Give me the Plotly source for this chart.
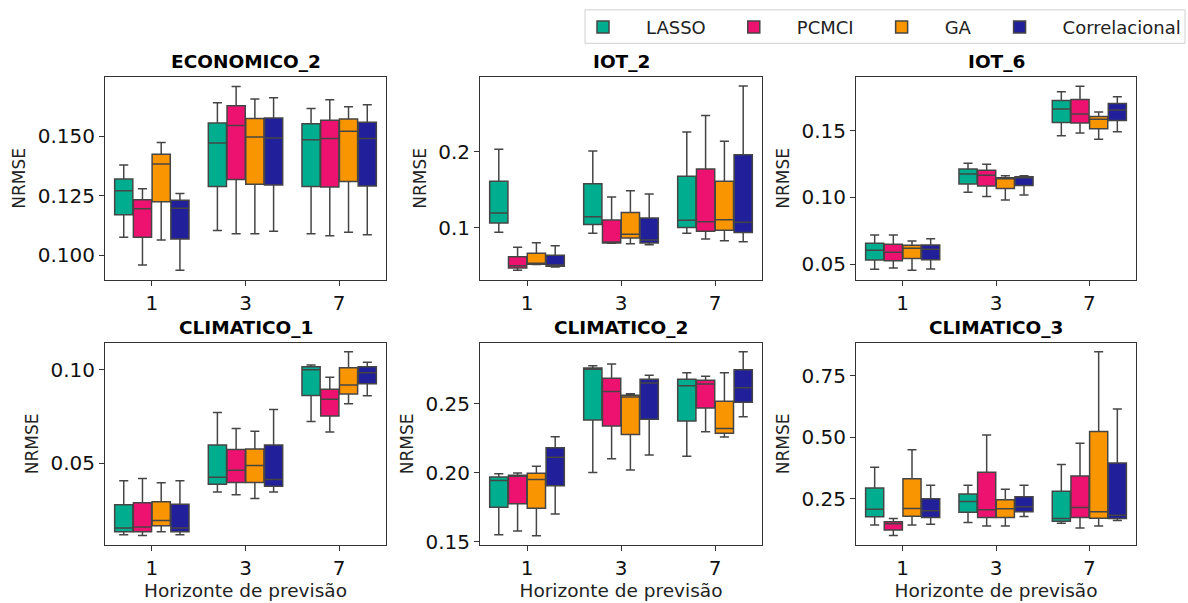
import plotly.graph_objects as go

horizons = ["1", "3", "7"]
methods = ["LASSO", "PCMCI", "GA", "Correlacional"]
colors = ["#00ad8e", "#ee1270", "#f89500", "#211f9a"]
titles = ["ECONOMICO_2", "IOT_2", "IOT_6", "CLIMATICO_1", "CLIMATICO_2", "CLIMATICO_3"]

# stats per dataset -> method -> [lower, q1, median, q3, upper] for each horizon 1,3,7
economico_2 = {
    "LASSO": [[0.1076, 0.1171, 0.1271, 0.1321, 0.1379], [0.1105, 0.1289, 0.1472, 0.1555, 0.1640], [0.1091, 0.1289, 0.1485, 0.1552, 0.1616]],
    "PCMCI": [[0.0960, 0.1076, 0.1196, 0.1234, 0.1280], [0.1091, 0.1318, 0.1545, 0.1628, 0.1709], [0.1083, 0.1287, 0.1490, 0.1567, 0.1653]],
    "GA": [[0.1065, 0.1225, 0.1383, 0.1424, 0.1474], [0.1091, 0.1299, 0.1497, 0.1574, 0.1656], [0.1097, 0.1310, 0.1521, 0.1572, 0.1624]],
    "Correlacional": [[0.0938, 0.1069, 0.1198, 0.1231, 0.1260], [0.1101, 0.1295, 0.1493, 0.1576, 0.1661], [0.1087, 0.1291, 0.1490, 0.1559, 0.1632]],
}
iot_2 = {
    "LASSO": [[0.0944, 0.1065, 0.1194, 0.1612, 0.2034], [0.0931, 0.1043, 0.1147, 0.1578, 0.2009], [0.0931, 0.1004, 0.1099, 0.1677, 0.2259]],
    "PCMCI": [[0.0444, 0.0474, 0.0504, 0.0621, 0.0746], [0.0797, 0.0802, 0.0806, 0.1104, 0.1405], [0.0853, 0.0957, 0.1082, 0.1772, 0.2474]],
    "GA": [[0.0520, 0.0522, 0.0526, 0.0668, 0.0806], [0.0793, 0.0866, 0.0918, 0.1203, 0.1487], [0.0832, 0.0970, 0.1108, 0.1612, 0.2138]],
    "Correlacional": [[0.0487, 0.0496, 0.0513, 0.0642, 0.0767], [0.0780, 0.0802, 0.0841, 0.1129, 0.1444], [0.0819, 0.0940, 0.1073, 0.1961, 0.2862]],
}
iot_6 = {
    "LASSO": [[0.0461, 0.0530, 0.0603, 0.0655, 0.0717], [0.1039, 0.1101, 0.1175, 0.1212, 0.1256], [0.1463, 0.1562, 0.1663, 0.1727, 0.1793]],
    "PCMCI": [[0.0470, 0.0525, 0.0589, 0.0648, 0.0717], [0.1007, 0.1086, 0.1165, 0.1204, 0.1249], [0.1483, 0.1557, 0.1626, 0.1734, 0.1833]],
    "GA": [[0.0453, 0.0542, 0.0618, 0.0640, 0.0672], [0.0980, 0.1066, 0.1143, 0.1148, 0.1163], [0.1436, 0.1515, 0.1586, 0.1606, 0.1640]],
    "Correlacional": [[0.0463, 0.0532, 0.0611, 0.0643, 0.0690], [0.1017, 0.1089, 0.1150, 0.1155, 0.1163], [0.1493, 0.1576, 0.1655, 0.1704, 0.1754]],
}
climatico_1 = {
    "LASSO": [[0.0119, 0.0135, 0.0154, 0.0279, 0.0407], [0.0347, 0.0388, 0.0425, 0.0598, 0.0772], [0.0723, 0.0863, 0.1000, 0.1016, 0.1025]],
    "PCMCI": [[0.0114, 0.0135, 0.0160, 0.0289, 0.0419], [0.0332, 0.0398, 0.0463, 0.0574, 0.0686], [0.0668, 0.0753, 0.0842, 0.0896, 0.0960]],
    "GA": [[0.0135, 0.0167, 0.0195, 0.0295, 0.0396], [0.0312, 0.0398, 0.0488, 0.0577, 0.0672], [0.0819, 0.0870, 0.0919, 0.1011, 0.1096]],
    "Correlacional": [[0.0119, 0.0135, 0.0154, 0.0281, 0.0407], [0.0347, 0.0377, 0.0414, 0.0598, 0.0788], [0.0861, 0.0925, 0.0984, 0.1016, 0.1040]],
}
climatico_2 = {
    "LASSO": [[0.1552, 0.1750, 0.1945, 0.1971, 0.1993], [0.2002, 0.2383, 0.2752, 0.2760, 0.2776], [0.2121, 0.2376, 0.2631, 0.2679, 0.2726]],
    "PCMCI": [[0.1579, 0.1776, 0.1979, 0.1983, 0.2000], [0.2102, 0.2340, 0.2590, 0.2686, 0.2790], [0.2298, 0.2471, 0.2645, 0.2671, 0.2700]],
    "GA": [[0.1545, 0.1743, 0.1952, 0.1998, 0.2048], [0.2021, 0.2279, 0.2550, 0.2562, 0.2574], [0.2260, 0.2288, 0.2321, 0.2519, 0.2726]],
    "Correlacional": [[0.1702, 0.1907, 0.2114, 0.2183, 0.2262], [0.2129, 0.2388, 0.2652, 0.2679, 0.2707], [0.2407, 0.2512, 0.2617, 0.2748, 0.2879]],
}
climatico_3 = {
    "LASSO": [[0.143, 0.177, 0.207, 0.294, 0.378], [0.154, 0.195, 0.239, 0.269, 0.305], [0.151, 0.159, 0.170, 0.281, 0.389]],
    "PCMCI": [[0.101, 0.123, 0.149, 0.157, 0.170], [0.139, 0.174, 0.205, 0.358, 0.509], [0.131, 0.174, 0.215, 0.342, 0.475]],
    "GA": [[0.143, 0.179, 0.211, 0.331, 0.449], [0.139, 0.174, 0.209, 0.246, 0.289], [0.139, 0.171, 0.197, 0.523, 0.847]],
    "Correlacional": [[0.147, 0.174, 0.201, 0.250, 0.305], [0.178, 0.197, 0.218, 0.258, 0.305], [0.162, 0.170, 0.183, 0.395, 0.615]],
}
datasets = [economico_2, iot_2, iot_6, climatico_1, climatico_2, climatico_3]

y_ranges = [[0.0898, 0.1749], [0.0319, 0.2983], [0.0382, 0.1904],
            [0.0065, 0.1144], [0.1479, 0.2943], [0.0633, 0.8833]]
y_ticks = [[0.100, 0.125, 0.150], [0.1, 0.2], [0.05, 0.10, 0.15],
           [0.05, 0.10], [0.15, 0.20, 0.25], [0.25, 0.50, 0.75]]
y_fmt = [".3f", ".1f", ".2f", ".2f", ".2f", ".2f"]

W, H = 1188, 603
x_doms = [[105 / W, 386 / W], [480 / W, 762 / W], [856 / W, 1136 / W]]
y_doms = [[1 - 284 / H, 1 - 78 / H], [1 - 553 / H, 1 - 348 / H]]

fig = go.Figure()
layout = {}
annotations = []
font_family = "DejaVu Sans"
tick_size = 20
label_size = 18.5
ylabel_size = 17

for i, (data, title) in enumerate(zip(datasets, titles)):
    r, c = divmod(i, 3)
    n = i + 1
    xa = "x" if n == 1 else f"x{n}"
    ya = "y" if n == 1 else f"y{n}"
    for m, col in zip(methods, colors):
        stats = data[m]
        fig.add_trace(go.Box(
            x=horizons,
            lowerfence=[s[0] for s in stats],
            q1=[s[1] for s in stats],
            median=[s[2] for s in stats],
            q3=[s[3] for s in stats],
            upperfence=[s[4] for s in stats],
            name=m, legendgroup=m, showlegend=(i == 0),
            fillcolor=col, line=dict(color="#454545", width=1.5),
            whiskerwidth=0.5, boxpoints=False, offsetgroup=m,
            xaxis=xa, yaxis=ya,
        ))
    xkey = "xaxis" if n == 1 else f"xaxis{n}"
    ykey = "yaxis" if n == 1 else f"yaxis{n}"
    layout[xkey] = dict(
        domain=x_doms[c], anchor=ya, type="category", range=[-0.5, 2.5],
        showline=True, mirror=True, linecolor="#333", linewidth=1,
        ticks="outside", ticklen=5, tickcolor="#333", showgrid=False,
        tickfont=dict(size=tick_size, color="#111", family=font_family),
        title=dict(text="Horizonte de previsão" if r == 1 else "",
                   font=dict(size=label_size, color="#222", family=font_family), standoff=3),
    )
    layout[ykey] = dict(
        domain=y_doms[r], anchor=xa, range=y_ranges[i],
        tickvals=y_ticks[i], tickformat=y_fmt[i],
        showline=True, mirror=True, linecolor="#333", linewidth=1,
        ticks="outside", ticklen=5, tickcolor="#333", showgrid=False, zeroline=False,
        tickfont=dict(size=tick_size, color="#111", family=font_family),
        title=dict(text="NRMSE", font=dict(size=ylabel_size, color="#222", family=font_family), standoff=7),
    )
    annotations.append(dict(
        text=f"<b>{title}</b>", xref="paper", yref="paper",
        x=sum(x_doms[c]) / 2, y=y_doms[r][1], xanchor="center", yanchor="bottom",
        yshift=3, showarrow=False,
        font=dict(size=label_size, color="#000", family=font_family),
    ))

# legend frame (decoration)
shapes = [dict(type="rect", xref="paper", yref="paper",
               x0=585 / W, x1=1185 / W, y0=1 - 44 / H, y1=1 - 10 / H,
               line=dict(color="#d0d0d0", width=1), fillcolor="rgba(255,255,255,0.8)",
               layer="below")]

fig.update_layout(
    **layout,
    annotations=annotations,
    shapes=shapes,
    width=W, height=H,
    margin=dict(l=0, r=0, t=0, b=0),
    paper_bgcolor="white", plot_bgcolor="white",
    boxmode="group", boxgap=0.2, boxgroupgap=0.03,
    legend=dict(
        orientation="h", x=560 / W, y=1 - 9 / H, xanchor="left", yanchor="top",
        borderwidth=0, bgcolor="rgba(0,0,0,0)",
        font=dict(size=18, color="#222", family=font_family),
        itemwidth=76,
        traceorder="normal",
    ),
    font=dict(family=font_family),
)

fig.write_html("out.html")
